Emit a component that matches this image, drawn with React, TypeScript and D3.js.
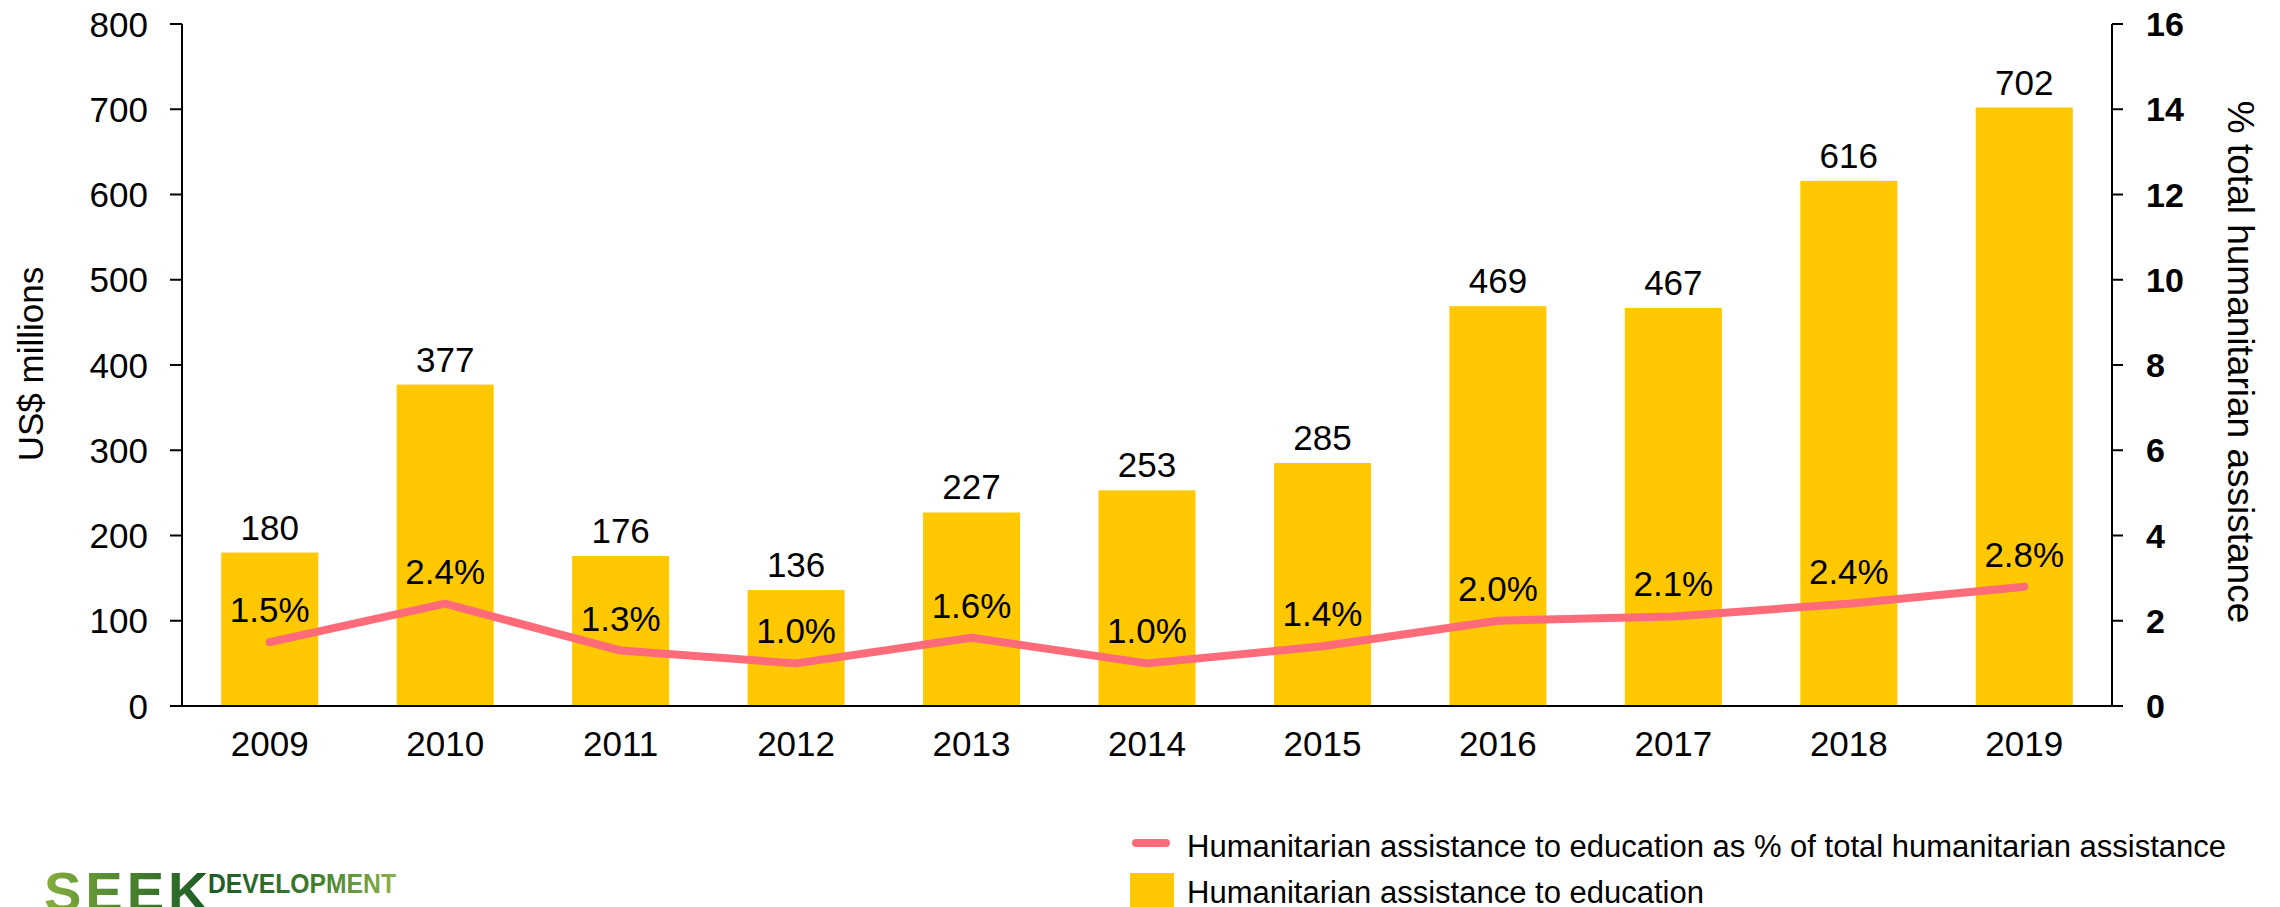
import React from "react";
import * as d3 from "d3";

const years = ["2009", "2010", "2011", "2012", "2013", "2014", "2015", "2016", "2017", "2018", "2019"];
const educationMillions = [180, 377, 176, 136, 227, 253, 285, 469, 467, 616, 702];
const sharePercent = [1.5, 2.4, 1.3, 1.0, 1.6, 1.0, 1.4, 2.0, 2.1, 2.4, 2.8];
const leftTicks = [0, 100, 200, 300, 400, 500, 600, 700, 800];
const rightTicks = [0, 2, 4, 6, 8, 10, 12, 14, 16];
const legendLabels = [
  "Humanitarian assistance to education as % of total humanitarian assistance",
  "Humanitarian assistance to education",
];

const FONT = "'Liberation Sans', Arial, Helvetica, sans-serif";
const BAR = "#FFC800";
const LINE = "#FF6B78";

export default function App() {
  const W = 2280;
  const H = 907;
  const left = 182;
  const right = 2112;
  const top = 24;
  const bottom = 706;

  const x = d3.scaleBand<string>().domain(years).range([left, right]).paddingInner(0.447).paddingOuter(0.2235);
  const yL = d3.scaleLinear().domain([0, 800]).range([bottom, top]);
  const yR = d3.scaleLinear().domain([0, 16]).range([bottom, top]);

  const cx = (y: string) => (x(y) as number) + x.bandwidth() / 2;
  const linePath = d3
    .line<number>()
    .x((_, i) => cx(years[i]))
    .y((d) => yR(d))(sharePercent) as string;

  return (
    <svg
      width={W}
      height={H}
      style={{ position: "absolute", left: 0, top: 0, background: "#fff" }}
      fontFamily={FONT}
    >
      <defs>
        <linearGradient id="seekGrad" x1="0" x2="1" y1="0" y2="0">
          <stop offset="0" stopColor="#86AE3E" />
          <stop offset="0.6" stopColor="#3F7A2C" />
          <stop offset="1" stopColor="#1B5A26" />
        </linearGradient>
        <linearGradient id="devGrad" x1="0" x2="1" y1="0" y2="0">
          <stop offset="0" stopColor="#1D5A27" />
          <stop offset="0.55" stopColor="#3E7B2D" />
          <stop offset="1" stopColor="#8DB34C" />
        </linearGradient>
      </defs>

      {/* bars */}
      {years.map((yr, i) => (
        <rect
          key={"b" + yr}
          x={x(yr)}
          y={yL(educationMillions[i])}
          width={x.bandwidth()}
          height={bottom - yL(educationMillions[i])}
          fill={BAR}
        />
      ))}

      {/* bar labels */}
      {years.map((yr, i) => (
        <text
          key={"bl" + yr}
          x={cx(yr)}
          y={yL(educationMillions[i]) - 13}
          textAnchor="middle"
          fontSize={35}
          fill="#000"
        >
          {educationMillions[i]}
        </text>
      ))}

      {/* line */}
      <path d={linePath} fill="none" stroke={LINE} strokeWidth={8} strokeLinecap="round" strokeLinejoin="round" />

      {/* line labels */}
      {years.map((yr, i) => (
        <text
          key={"ll" + yr}
          x={cx(yr)}
          y={yR(sharePercent[i]) - 20}
          textAnchor="middle"
          fontSize={35}
          fill="#000"
        >
          {sharePercent[i].toFixed(1) + "%"}
        </text>
      ))}

      {/* left axis */}
      <line x1={left} x2={left} y1={top} y2={bottom} stroke="#000" strokeWidth={2} />
      {leftTicks.map((t) => (
        <g key={"lt" + t}>
          <line x1={170} x2={left} y1={yL(t)} y2={yL(t)} stroke="#000" strokeWidth={2} />
          <text x={148} y={yL(t)} dy="0.36em" textAnchor="end" fontSize={35} fill="#000">
            {t}
          </text>
        </g>
      ))}

      {/* right axis */}
      <line x1={right} x2={right} y1={top} y2={bottom} stroke="#000" strokeWidth={2} />
      {rightTicks.map((t) => (
        <g key={"rt" + t}>
          <line x1={right} x2={2123} y1={yR(t)} y2={yR(t)} stroke="#000" strokeWidth={2} />
          <text x={2146} y={yR(t)} dy="0.36em" textAnchor="start" fontSize={34} fontWeight="bold" fill="#000">
            {t}
          </text>
        </g>
      ))}

      {/* x axis */}
      <line x1={170} x2={2123} y1={bottom} y2={bottom} stroke="#000" strokeWidth={2} />
      {years.map((yr) => (
        <text key={"xl" + yr} x={cx(yr)} y={756} textAnchor="middle" fontSize={35} fill="#000">
          {yr}
        </text>
      ))}

      {/* axis titles */}
      <text transform="translate(43,364) rotate(-90)" textAnchor="middle" fontSize={35} fill="#000">
        US$ millions
      </text>
      <text transform="translate(2228,362) rotate(90)" textAnchor="middle" fontSize={37} fill="#000">
        % total humanitarian assistance
      </text>

      {/* legend */}
      <line x1={1136} x2={1166} y1={843} y2={843} stroke={LINE} strokeWidth={8} strokeLinecap="round" />
      <text x={1187} y={857} fontSize={31} fill="#000">
        {legendLabels[0]}
      </text>
      <rect x={1130} y={873} width={44} height={40} fill={BAR} />
      <text x={1187} y={903} fontSize={31} fill="#000">
        {legendLabels[1]}
      </text>

      {/* logo */}
      <text x={44} y={911} fontSize={56} fontWeight="bold" fill="url(#seekGrad)" letterSpacing={4}>
        SEEK
      </text>
      <text
        x={208}
        y={893}
        fontSize={27}
        fontWeight="bold"
        fill="url(#devGrad)"
        textLength={188}
        lengthAdjust="spacingAndGlyphs"
      >
        DEVELOPMENT
      </text>
    </svg>
  );
}
